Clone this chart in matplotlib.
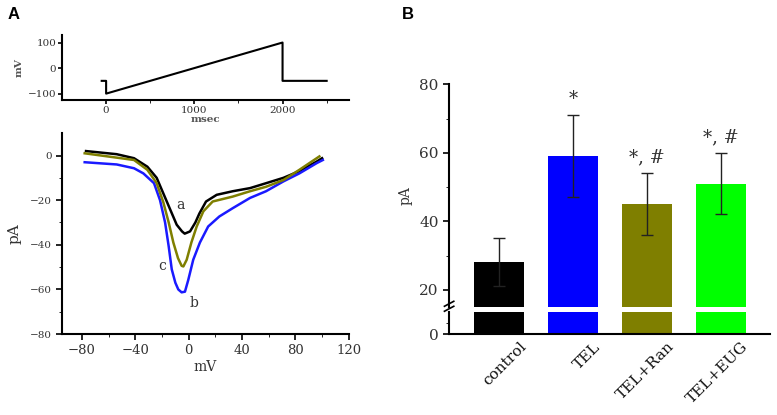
import numpy as np
import matplotlib
matplotlib.use('Agg')
import matplotlib.pyplot as plt
import matplotlib.transforms as mtransforms

# Données
# Protocole de tension (panneau A, haut)
t_proto = [-50, 0, 0, 2000, 2000, 2500]
v_proto = [-50, -50, -100, 100, -50, -50]

# Courbes I-V (panneau A, bas)
a_x = [-77, -54, -41, -31, -24, -19, -14, -9, -5, -3, 1, 5, 8, 13, 21, 33, 46, 58, 71, 83, 96, 100]
a_y = [2, 0.6, -1.2, -5, -10, -17, -24, -31, -34, -35, -34, -30, -26, -20.6, -17.6, -16, -14.6, -12.4, -10, -7, -2.7, -1.2]
c_x = [-78, -41, -31, -24, -19, -15, -11.5, -8, -5.3, -4, -1.5, 2, 6, 11, 18, 33, 46, 58, 71, 83, 98]
c_y = [1, -2, -6.4, -12.4, -21, -30, -39, -46, -49.4, -49.7, -46.7, -39, -31.8, -25, -20.6, -18.4, -16, -14, -11, -6.4, -0.4]
b_x = [-78, -54, -41, -34, -26, -21.5, -17.7, -15, -12.7, -10, -7.8, -5.3, -2.8, -0.3, 3.4, 8.4, 14.6, 23, 33, 46, 58, 71, 83, 96, 100.6]
b_y = [-3, -4, -5.7, -8, -12.4, -20, -30, -40.7, -51, -57, -60, -61.3, -61, -55.7, -46.7, -39, -31.8, -27.3, -23.6, -19, -16, -11.6, -8, -3.4, -2]

# Barres (panneau B)
groupes = ['control', 'TEL', 'TEL+Ran', 'TEL+EUG']
valeurs = [28, 59, 45, 51]
erreurs = [7, 12, 9, 9]
couleurs = ['#000000', '#0000ff', '#7f7f00', '#00ff00']
signes = ['', '*', '*, #', '*, #']

serif = 'DejaVu Serif'
gris = '#333333'

fig = plt.figure(figsize=(7.77, 4.15), dpi=100)

# --- A haut : protocole
ax1 = fig.add_axes([0.0798, 0.759, 0.369, 0.157])
ax1.plot(t_proto, v_proto, color='black', lw=1.5)
ax1.set_xlim(-500, 2750)
ax1.set_ylim(-125, 130)
ax1.set_xticks([0, 1000, 2000])
ax1.set_xticks([500, 1500, 2500], minor=True)
ax1.set_yticks([-100, 0, 100])
ax1.set_yticklabels(['\u2212100', '0', '100'])
for s in ['top', 'right']:
    ax1.spines[s].set_visible(False)
for s in ['left', 'bottom']:
    ax1.spines[s].set_linewidth(1.5)
ax1.tick_params(labelsize=7.5, labelcolor=gris, width=1.2, length=3, pad=1)
ax1.tick_params(which='minor', length=2)
for l in ax1.get_xticklabels() + ax1.get_yticklabels():
    l.set_family(serif)
ax1.set_xlabel('msec', fontsize=7.5, family=serif, color='#555555', fontweight='bold', labelpad=0)
ax1.set_ylabel('mV', fontsize=7.5, family=serif, color='#555555', fontweight='bold', labelpad=3)

# --- A bas : courbes I-V
ax2 = fig.add_axes([0.0798, 0.195, 0.369, 0.484])
ax2.plot(a_x, a_y, color='black', lw=1.8)
ax2.plot(b_x, b_y, color='#1a1aff', lw=1.8)
ax2.plot(c_x, c_y, color='#7f7f00', lw=1.8)
ax2.text(-6.5, -22, 'a', fontsize=10, family=serif, color=gris, ha='center', va='center')
ax2.text(-19.7, -49.7, 'c', fontsize=10, family=serif, color=gris, ha='center', va='center')
ax2.text(4, -66, 'b', fontsize=10, family=serif, color=gris, ha='center', va='center')
ax2.set_xlim(-95, 120)
ax2.set_ylim(-80, 10)
ax2.set_xticks([-80, -40, 0, 40, 80, 120])
ax2.set_xticklabels(['\u221280', '\u221240', '0', '40', '80', '120'])
ax2.set_xticks([-60, -20, 20, 60, 100], minor=True)
ax2.set_yticks([0, -20, -40, -60, -80])
ax2.set_yticklabels(['0', '\u221220', '\u221240', '\u221260', '\u221280'])
ax2.set_yticks([-10, -30, -50, -70], minor=True)
for s in ['top', 'right']:
    ax2.spines[s].set_visible(False)
for s in ['left', 'bottom']:
    ax2.spines[s].set_linewidth(1.5)
ax2.tick_params(labelsize=9.5, labelcolor=gris, width=1.2, length=4)
ax2.tick_params(axis='y', labelsize=7.5)
ax2.tick_params(which='minor', length=2.5)
for l in ax2.get_xticklabels() + ax2.get_yticklabels():
    l.set_family(serif)
ax2.set_xlabel('mV', fontsize=10, family=serif, color=gris, labelpad=2)
ax2.set_ylabel('pA', fontsize=11, family=serif, color=gris, labelpad=6)

# --- B : barres avec axe coupé
x = np.arange(len(groupes))
ax_h = fig.add_axes([0.578, 0.261, 0.413, 0.536])
ax_b = fig.add_axes([0.578, 0.195, 0.413, 0.053])
for ax in [ax_h, ax_b]:
    ax.bar(x, valeurs, width=0.67, color=couleurs)
    ax.set_xlim(-0.676, 3.66)
    for s in ['top', 'right']:
        ax.spines[s].set_visible(False)
    ax.spines['left'].set_linewidth(1.5)
    ax.tick_params(labelsize=11, labelcolor=gris, width=1.2, length=4)
    ax.tick_params(which='minor', length=2.5)

ax_h.errorbar(x, valeurs, yerr=erreurs, fmt='none', ecolor='#222222', elinewidth=1, capsize=4, capthick=1)
ax_h.set_ylim(15.1, 80)
ax_h.set_yticks([20, 40, 60, 80])
ax_h.set_yticks([30, 50, 70], minor=True)
ax_h.spines['bottom'].set_visible(False)
ax_h.set_xticks([])
for i, s in enumerate(signes):
    if s:
        ax_h.text(x[i], valeurs[i] + erreurs[i] + 2, s, fontsize=13, family=serif,
                  color=gris, ha='center', va='bottom')
ax_h.set_ylabel('pA', fontsize=10, family=serif, color=gris, labelpad=5)
for l in ax_h.get_yticklabels():
    l.set_family(serif)

ax_b.set_ylim(0, 10)
ax_b.set_yticks([0])
ax_b.set_yticks([5], minor=True)
ax_b.spines['bottom'].set_linewidth(1.5)
ax_b.set_xticks(x)
ax_b.set_xticklabels(groupes, rotation=45, ha='right', va='top', rotation_mode='anchor',
                     family=serif, fontsize=11, color='#111111')
ax_b.tick_params(axis='x', length=0, pad=4)
decalage = mtransforms.ScaledTranslation(0.2, 0, fig.dpi_scale_trans)
for l in ax_b.get_xticklabels():
    l.set_transform(l.get_transform() + decalage)
for l in ax_b.get_yticklabels():
    l.set_family(serif)

# marques de coupure
fig.add_artist(plt.Line2D([0.572, 0.584], [0.262, 0.274], color='black', lw=1.2))
fig.add_artist(plt.Line2D([0.572, 0.584], [0.250, 0.262], color='black', lw=1.2))

fig.text(0.010, 0.955, 'A', fontsize=12, fontweight='bold', family='Liberation Sans')
fig.text(0.517, 0.955, 'B', fontsize=12, fontweight='bold', family='Liberation Sans')

plt.savefig('out.png', dpi=100)
plt.close()
